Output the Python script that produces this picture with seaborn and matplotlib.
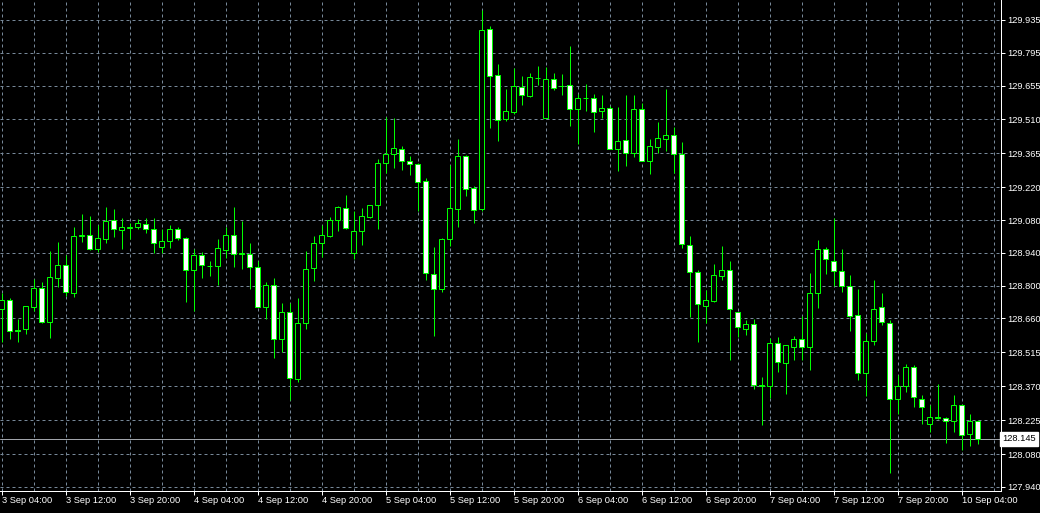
import pandas as pd
import matplotlib
matplotlib.use('Agg')
import matplotlib.pyplot as plt
import seaborn as sns

# Hourly candles, 3 Sep 04:00 -> 10 Sep 06:00
opens = [128.699, 128.739, 128.609, 128.614, 128.708, 128.789, 128.646, 128.834, 128.887, 128.770,
         129.013, 129.015, 128.958, 128.998, 129.079, 129.039, 129.047, 129.049, 129.062, 129.041,
         128.967, 128.990, 129.041, 129.002, 128.866, 128.930, 128.885, 128.884, 128.954, 129.015,
         128.936, 128.934, 128.879, 128.708, 128.802, 128.571, 128.686, 128.400, 128.639, 128.874,
         128.984, 129.012, 129.081, 129.131, 128.938, 129.032, 129.092, 129.143, 129.323, 129.361,
         129.383, 129.331, 129.319, 129.246, 128.849, 128.785, 128.998, 129.126, 129.353, 129.216,
         129.126, 129.895, 129.699, 129.511, 129.543, 129.648, 129.612, 129.688, 129.518, 129.682,
         129.654, 129.656, 129.556, 129.600, 129.601, 129.545, 129.558, 129.383, 129.421, 129.366,
         129.553, 129.334, 129.394, 129.425, 129.442, 129.361, 128.972, 128.857, 128.714, 128.733,
         128.843, 128.866, 128.686, 128.616, 128.635, 128.374, 128.370, 128.554, 128.471, 128.539,
         128.571, 128.539, 128.767, 128.955, 128.907, 128.861, 128.797, 128.673, 128.426, 128.565,
         128.708, 128.639, 128.315, 128.370, 128.453, 128.315, 128.208, 128.237, 128.233, 128.221,
         128.289, 128.165, 128.223]
highs = [128.767, 128.746, 128.656, 128.713, 128.827, 128.816, 128.948, 128.987, 128.931, 129.051,
         129.106, 129.098, 129.058, 129.135, 129.128, 129.088, 129.067, 129.084, 129.088, 129.088,
         129.041, 129.058, 129.052, 129.007, 128.955, 128.944, 128.905, 128.998, 129.052, 129.136,
         129.076, 128.982, 128.905, 128.816, 128.833, 128.726, 128.726, 128.749, 128.949, 129.012,
         129.058, 129.092, 129.140, 129.187, 129.119, 129.133, 129.144, 129.340, 129.519, 129.515,
         129.397, 129.354, 129.323, 129.259, 128.967, 129.005, 129.316, 129.427, 129.358, 129.226,
         129.978, 129.909, 129.747, 129.640, 129.729, 129.696, 129.709, 129.738, 129.733, 129.709,
         129.704, 129.824, 129.619, 129.662, 129.619, 129.615, 129.568, 129.562, 129.615, 129.615,
         129.579, 129.425, 129.499, 129.640, 129.477, 129.414, 129.012, 128.867, 128.782, 128.893,
         128.970, 128.905, 128.689, 128.653, 128.656, 128.411, 128.575, 128.582, 128.546, 128.585,
         128.670, 128.855, 128.995, 128.967, 129.089, 128.957, 128.846, 128.785, 128.597, 128.824,
         128.767, 128.653, 128.418, 128.465, 128.461, 128.333, 128.290, 128.380, 128.240, 128.333,
         128.295, 128.252, 128.226]
lows = [128.561, 128.572, 128.561, 128.594, 128.693, 128.639, 128.578, 128.796, 128.756, 128.753,
        128.988, 128.952, 128.945, 128.981, 129.009, 128.958, 128.998, 129.041, 129.026, 128.938,
        128.940, 128.962, 128.995, 128.732, 128.692, 128.834, 128.843, 128.804, 128.920, 128.881,
        128.873, 128.785, 128.707, 128.658, 128.492, 128.515, 128.312, 128.390, 128.616, 128.821,
        128.923, 129.009, 129.035, 129.044, 128.913, 128.975, 129.091, 129.043, 129.280, 129.304,
        129.294, 129.273, 129.119, 128.824, 128.586, 128.774, 128.971, 129.052, 129.184, 129.069,
        129.119, 129.475, 129.419, 129.505, 129.533, 129.572, 129.605, 129.657, 129.515, 129.636,
        129.615, 129.482, 129.405, 129.548, 129.457, 129.515, 129.384, 129.290, 129.313, 129.351,
        129.333, 129.277, 129.366, 129.377, 129.280, 128.960, 128.668, 128.561, 128.639, 128.732,
        128.824, 128.482, 128.582, 128.589, 128.357, 128.205, 128.321, 128.430, 128.337, 128.482,
        128.482, 128.440, 128.706, 128.850, 128.799, 128.774, 128.608, 128.397, 128.330, 128.547,
        128.632, 127.999, 128.252, 128.346, 128.283, 128.209, 128.176, 128.229, 128.127, 128.176,
        128.098, 128.116, 128.124]
closes = [128.739, 128.608, 128.608, 128.712, 128.789, 128.646, 128.836, 128.887, 128.774, 129.011,
          129.015, 128.958, 129.002, 129.076, 129.041, 129.051, 129.049, 129.067, 129.041, 128.981,
          128.990, 129.041, 129.002, 128.866, 128.930, 128.887, 128.883, 128.960, 129.017, 128.934,
          128.938, 128.879, 128.708, 128.802, 128.571, 128.686, 128.404, 128.639, 128.870, 128.981,
          129.015, 129.081, 129.135, 129.045, 129.032, 129.096, 129.143, 129.323, 129.363, 129.387,
          129.331, 129.319, 129.244, 128.855, 128.785, 128.998, 129.131, 129.353, 129.212, 129.122,
          129.891, 129.697, 129.507, 129.545, 129.652, 129.613, 129.690, 129.686, 129.682, 129.646,
          129.652, 129.556, 129.601, 129.602, 129.543, 129.558, 129.385, 129.417, 129.366, 129.553,
          129.334, 129.397, 129.430, 129.442, 129.361, 128.977, 128.857, 128.720, 128.739, 128.844,
          128.866, 128.699, 128.622, 128.635, 128.374, 128.372, 128.554, 128.473, 128.545, 128.571,
          128.539, 128.767, 128.955, 128.913, 128.861, 128.797, 128.669, 128.426, 128.562, 128.699,
          128.644, 128.315, 128.371, 128.453, 128.323, 128.280, 128.238, 128.235, 128.221, 128.289,
          128.161, 128.223, 128.145]

time_labels = ['3 Sep 04:00', '3 Sep 12:00', '3 Sep 20:00', '4 Sep 04:00', '4 Sep 12:00',
               '4 Sep 20:00', '5 Sep 04:00', '5 Sep 12:00', '5 Sep 20:00', '6 Sep 04:00',
               '6 Sep 12:00', '6 Sep 20:00', '7 Sep 04:00', '7 Sep 12:00', '7 Sep 20:00',
               '10 Sep 04:00']
price_ticks = [129.935, 129.795, 129.655, 129.510, 129.365, 129.220, 129.080, 128.940,
               128.800, 128.660, 128.515, 128.370, 128.225, 128.080, 127.940]
last_price = 128.145

df = pd.DataFrame({'open': opens, 'high': highs, 'low': lows, 'close': closes})
df['bar'] = range(len(df))
df['up'] = df['close'] > df['open']

sns.set_theme(style='dark', rc={'axes.facecolor': 'black', 'figure.facecolor': 'black'})
plt.rcParams['font.family'] = ['Liberation Sans', 'DejaVu Sans']

green = '#00ff00'
grid_col = '#778899'
px = 0.72  # one pixel in points

fig = plt.figure(figsize=(10.4, 5.13), dpi=100)
ax = fig.add_axes([0, 22.3 / 513, 1000.5 / 1040, 490.7 / 513])

# wicks
ax.vlines(df['bar'], df['low'], df['high'], color=green, linewidth=px, zorder=3)

# bodies: white for falling bars, black for rising bars
body = (df['close'] - df['open']).abs().clip(lower=0.0015)
ax.bar(df['bar'], body, bottom=df[['open', 'close']].min(axis=1), width=0.55,
       color=['black' if u else 'white' for u in df['up']],
       edgecolor=green, linewidth=px, zorder=4)

# last price line and label
ax.axhline(last_price, color='#a0a4aa', linewidth=px, zorder=2)
ax.text(1.002, last_price, f'{last_price:.3f}', transform=ax.get_yaxis_transform(),
        ha='left', va='center', fontsize=6.7, color='black', clip_on=False,
        bbox=dict(boxstyle='square,pad=0.25', facecolor='white', edgecolor='white'))

ax.set_xlim(-0.1875, -0.1875 + 1000.5 / 8)
ax.set_ylim(127.924, 130.0204)

ax.set_xticks(range(0, 121, 8))
ax.set_xticklabels(time_labels)
ax.set_xticks(range(4, 125, 8), minor=True)
for lab in ax.get_xticklabels():
    lab.set_ha('left')

ax.yaxis.tick_right()
ax.set_yticks(price_ticks)
ax.set_yticklabels([f'{p:.3f}' for p in price_ticks])

ax.grid(which='both', color=grid_col, linestyle=(0, (3, 3)), linewidth=px, zorder=1)
ax.set_axisbelow(True)

ax.tick_params(axis='x', which='major', direction='out', length=3, width=px,
               color='white', labelcolor='white', labelsize=6.7, pad=1, bottom=True)
ax.tick_params(axis='x', which='minor', length=0)
ax.tick_params(axis='y', direction='out', length=3, width=px, color='white',
               labelcolor='white', labelsize=6.7, pad=1.5, right=True, left=False)

for side in ['left', 'top']:
    ax.spines[side].set_visible(False)
for side in ['right', 'bottom']:
    ax.spines[side].set_visible(True)
    ax.spines[side].set_color('white')
    ax.spines[side].set_linewidth(px)

fig.savefig('out.png', dpi=100, facecolor='black')
